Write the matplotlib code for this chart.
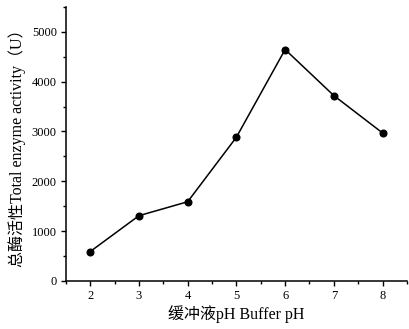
import matplotlib.pyplot as plt
from matplotlib.ticker import MultipleLocator

# 数据
ph = [2, 3, 4, 5, 6, 7, 8]
activity = [590, 1310, 1590, 2885, 4645, 3720, 2970]

plt.rcParams['font.family'] = ['Liberation Serif', 'Noto Sans CJK SC']

fig = plt.figure(figsize=(4.09, 3.29), dpi=100)
ax = fig.add_axes([0.161, 0.146, 0.834, 0.833])

ax.plot(ph, activity, color='black', lw=1.1, marker='o', ms=4.8)

ax.set_xlim(1.5, 8.5)
ax.set_ylim(0, 5500)
ax.set_xticks(ph)
ax.yaxis.set_major_locator(MultipleLocator(1000))
ax.xaxis.set_minor_locator(MultipleLocator(0.5))
ax.yaxis.set_minor_locator(MultipleLocator(500))
ax.tick_params(which='major', direction='out', length=3.5, width=1, labelsize=9, pad=3)
ax.tick_params(which='minor', direction='out', length=2, width=1)

for s in ['top', 'right']:
    ax.spines[s].set_visible(False)
for s in ['left', 'bottom']:
    ax.spines[s].set_linewidth(1.1)

ax.set_xlabel('缓冲液pH Buffer pH', fontsize=11.5, labelpad=2)
ax.set_ylabel('总酶活性Total enzyme activity（U）', fontsize=11.5, labelpad=4)

fig.savefig('out.png', dpi=100)
